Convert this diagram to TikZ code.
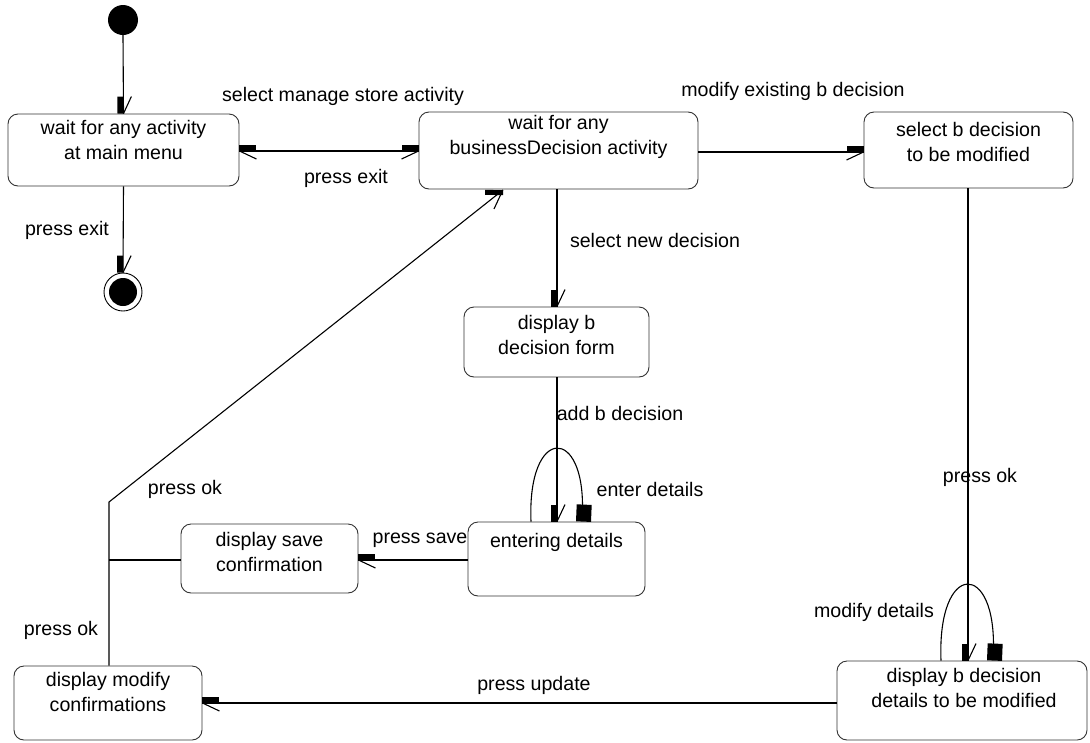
\documentclass[tikz,border=0pt]{standalone}
\usepackage{fontspec}
\setmainfont{Liberation Sans}
\pgfdeclarearrow{
  name=umlR,
  setup code={
    \pgfarrowssettipend{0pt}
    \pgfarrowssetlineend{0pt}
    \pgfarrowssetvisualbackend{-17pt}
    \pgfarrowssetbackend{-17pt}
    \pgfarrowshullpoint{0pt}{0pt}
    \pgfarrowshullpoint{-17pt}{8pt}
    \pgfarrowshullpoint{-17pt}{-6pt}
  },
  drawing code={
    \pgfpathrectanglecorners{\pgfpoint{-17pt}{0pt}}{\pgfpoint{0pt}{-6pt}}
    \pgfusepathqfill
    \pgfpathmoveto{\pgfpointorigin}
    \pgfpathlineto{\pgfpoint{-17pt}{8pt}}
    \pgfusepathqstroke
  }
}
\pgfdeclarearrow{
  name=umlL,
  setup code={
    \pgfarrowssettipend{0pt}
    \pgfarrowssetlineend{0pt}
    \pgfarrowssetvisualbackend{-17pt}
    \pgfarrowssetbackend{-17pt}
    \pgfarrowshullpoint{0pt}{0pt}
    \pgfarrowshullpoint{-17pt}{-8pt}
    \pgfarrowshullpoint{-17pt}{6pt}
  },
  drawing code={
    \pgfpathrectanglecorners{\pgfpoint{-17pt}{0pt}}{\pgfpoint{0pt}{6pt}}
    \pgfusepathqfill
    \pgfpathmoveto{\pgfpointorigin}
    \pgfpathlineto{\pgfpoint{-17pt}{-8pt}}
    \pgfusepathqstroke
  }
}
\pgfdeclarearrow{
  name=umlD,
  setup code={
    \pgfarrowssettipend{0pt}
    \pgfarrowssetlineend{0pt}
    \pgfarrowssetvisualbackend{-14pt}
    \pgfarrowssetbackend{-14pt}
    \pgfarrowshullpoint{0pt}{0pt}
    \pgfarrowshullpoint{-18pt}{-18pt}
    \pgfarrowshullpoint{-18pt}{8pt}
  },
  drawing code={
    \pgftransformrotate{-38.4}
    \pgfpathrectanglecorners{\pgfpoint{-18pt}{-5pt}}{\pgfpoint{0pt}{0pt}}
    \pgfusepathqfill
    \pgfpathmoveto{\pgfpoint{-2pt}{-4pt}}
    \pgfpathlineto{\pgfpoint{-9pt}{-19pt}}
    \pgfusepathqstroke
  }
}
\pgfdeclarearrow{
  name=umlSq,
  setup code={
    \pgfarrowssettipend{0pt}
    \pgfarrowssetlineend{-8pt}
    \pgfarrowssetvisualbackend{-17pt}
    \pgfarrowssetbackend{-17pt}
    \pgfarrowshullpoint{0pt}{-6pt}
    \pgfarrowshullpoint{0pt}{9pt}
    \pgfarrowshullpoint{-17pt}{-6pt}
    \pgfarrowshullpoint{-17pt}{9pt}
  },
  drawing code={
    \pgfpathrectanglecorners{\pgfpoint{-17pt}{-6pt}}{\pgfpoint{0pt}{9pt}}
    \pgfusepathqfill
  }
}
\newcommand\twol[2]{\begin{tabular}[t]{@{}c@{}}#1\\#2\end{tabular}}
\begin{document}
\begin{tikzpicture}[x=1pt,y=-1pt,
  every node/.style={font=\fontsize{19.6}{25}\selectfont, inner sep=0pt},
  state/.style={draw=black!80, line width=0.9pt, rounded corners=10pt, rectangle},
  txt/.style={anchor=base, align=center},
  lbl/.style={anchor=base},
  tr/.style={draw=black, line width=1.1pt},
]
\useasboundingbox[fill=white] (0,0) rectangle (1090,742);

% states
\node[state, minimum width=231pt, minimum height=72pt] (b1) at (123.5,150) {};
\node[state, minimum width=279pt, minimum height=77pt] (b2) at (558.5,150.5) {};
\node[state, minimum width=209pt, minimum height=76pt] (b3) at (968.5,150) {};
\node[state, minimum width=185pt, minimum height=70pt] (b4) at (556.5,342) {};
\node[state, minimum width=177pt, minimum height=74pt] (b5) at (556.5,559) {};
\node[state, minimum width=177pt, minimum height=69pt] (b6) at (269.5,558.5) {};
\node[state, minimum width=188pt, minimum height=74pt] (b7) at (108,703) {};
\node[state, minimum width=250pt, minimum height=79pt] (b8) at (962,700.5) {};

% state texts
\node[txt] (t1) at (123.5,134) {\twol{wait for any activity}{at main menu}};
\node[txt] (t2) at (558.5,129) {\twol{wait for any}{businessDecision activity}};
\node[txt] (t3) at (968.5,136) {\twol{select b decision}{to be modified}};
\node[txt] (t4) at (556.5,329) {\twol{display b}{decision form}};
\node[txt] (t5) at (556.5,547) {entering details};
\node[txt] (t6) at (269.5,546) {\twol{display save}{confirmation}};
\node[txt] (t7) at (108,686) {\twol{display modify}{confirmations}};
\node[txt] (t8) at (964,682) {\twol{display b decision}{details to be modified}};

% pseudo states
\node[circle, fill=black, minimum size=30pt] (init) at (123,20) {};
\node[circle, draw=black, line width=0.9pt, minimum size=38pt] (fin) at (123,292) {};
\node[circle, fill=black, minimum size=28pt] (fincore) at (123,292) {};

% junction coordinates
\coordinate (j) at (109,560);
\coordinate (k) at (109,502);
\coordinate (b2in) at (503,190);

% transitions
\draw[tr, -umlR] (init.south) -- (b1.north);
\draw[tr, -umlR] (b1.south) -- (fin.north);
\draw[tr, umlR-umlL] (b1.east |- 0,151) -- (b2.west |- 0,151);
\draw[tr, -umlL] (b2.east |- 0,152) -- (b3.west |- 0,152);
\draw[tr, -umlR] (b2.south -| 557,0) -- (b4.north -| 557,0);
\draw[tr, -umlR] (b4.south -| 557,0) -- (b5.north -| 557,0);
\draw[tr, -umlSq] (b5.north -| 531,0) .. controls (527,425) and (586,425) .. (b5.north -| 582,0);
\draw[tr, -umlR] (b5.west |- j) -- (b6.east |- j);
\draw[tr] (b6.west |- j) -- (j);
\draw[tr, -umlD] (j |- b7.north) -- (k) -- (b2in);
\draw[tr, -umlR] (b3.south -| 968,0) -- (b8.north -| 968,0);
\draw[tr, -umlSq] (b8.north -| 941,0) .. controls (937,560) and (997,560) .. (b8.north -| 993,0);
\draw[tr, -umlR] (b8.west |- 0,703) -- (b7.east |- 0,703);

% labels
\node[lbl] (l1) at (343,101) {select manage store activity};
\node[lbl] (l2) at (346,183) {press exit};
\node[lbl] (l3) at (793,96) {modify existing b decision};
\node[lbl] (l4) at (67,235) {press exit};
\node[lbl] (l5) at (655,247) {select new decision};
\node[lbl] (l6) at (620,420) {add b decision};
\node[lbl] (l7) at (650,496) {enter details};
\node[lbl] (l8) at (420,543) {press save};
\node[lbl] (l9) at (185,494) {press ok};
\node[lbl] (l10) at (61,635) {press ok};
\node[lbl] (l11) at (980,482) {press ok};
\node[lbl] (l12) at (874,617) {modify details};
\node[lbl] (l13) at (534,690) {press update};
\end{tikzpicture}
\end{document}
